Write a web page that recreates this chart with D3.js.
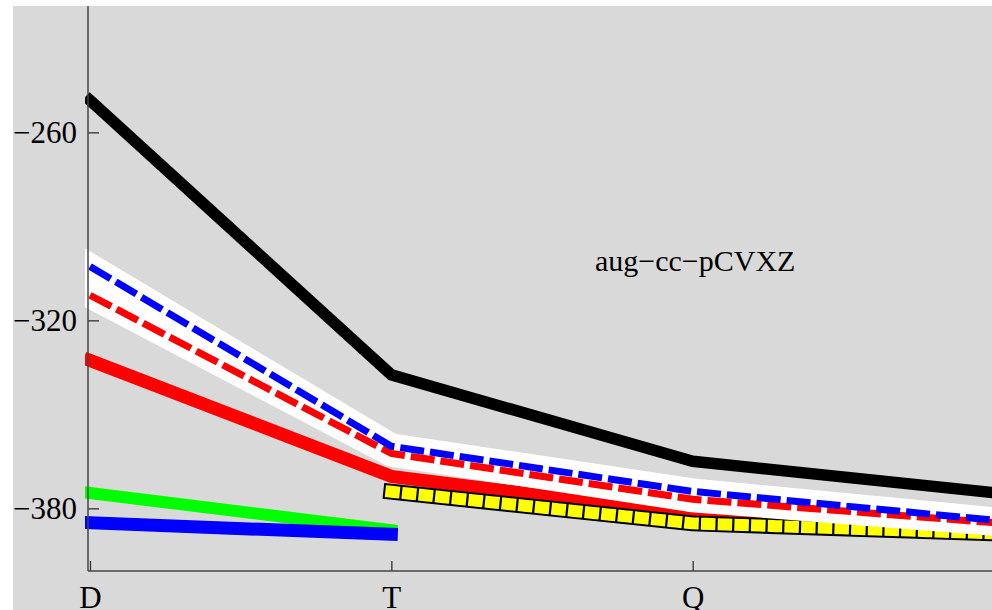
<!DOCTYPE html>
<html>
<head>
<meta charset="utf-8">
<style>
  body { margin: 0; background: #fff; }
  svg { display: block; }
  .tick text { font-family: "Liberation Serif", "DejaVu Serif", serif; font-size: 31px; fill: #000; }
  .tick line { stroke: #333; stroke-width: 1.3px; }
  .label { font-family: "Liberation Serif", "DejaVu Serif", serif; font-size: 30px; fill: #000; }
</style>
</head>
<body>
<script src="https://cdn.jsdelivr.net/npm/d3@7"></script>
<script>
const width = 992, height = 610;

// basis set cardinal numbers, D T Q 5
const basis = [2, 3, 4, 5];
const basisLabels = ["D", "T", "Q", "5"];
const yTicks = [-380, -320, -260];

// energies
const blackSeries     = [-249.8, -337.4, -365.0, -375.0];
const blueDashSeries  = [-302.8, -360.2, -374.6, -383.8];
const redDashSeries   = [-312.0, -362.5, -377.1, -384.6];
const redSolidSeries  = [-332.8, -369.8, -382.0, -387.0];
const yellowBasis     = [3, 4, 5];
const yellowSeries    = [-374.7, -384.8, -388.0];
const greenBasis      = [2, 3];
const greenSeries     = [-375.1, -387.0];
const blueSolidBasis  = [2, 3];
const blueSolidSeries = [-384.6, -388.3];

const x = d3.scaleLinear().domain([2, 5]).range([90, 994]);
const y = d3.scaleLinear().domain([-400, -220]).range([571, 7]);

const svg = d3.select("body").append("svg")
    .attr("width", width)
    .attr("height", height);

svg.append("rect")
    .attr("x", 13).attr("y", 6)
    .attr("width", width - 13).attr("height", height - 6)
    .attr("fill", "#d9d9d9");

svg.append("defs").append("clipPath").attr("id", "plotClip")
  .append("rect")
    .attr("x", 85).attr("y", 6)
    .attr("width", width - 85).attr("height", 566);

const line = d3.line().x(d => x(d[0])).y(d => y(d[1]));
const pts = (xs, ys) => xs.map((v, i) => [v, ys[i]]);

const plot = svg.append("g").attr("clip-path", "url(#plotClip)");

function draw(data, color, w, dash, cap) {
    return plot.append("path")
        .datum(data)
        .attr("d", line)
        .attr("fill", "none")
        .attr("stroke", color)
        .attr("stroke-width", w)
        .attr("stroke-linecap", cap || (dash ? "butt" : "square"))
        .attr("stroke-dasharray", dash || null);
}

draw(pts(basis, blackSeries), "#000", 11.5);
draw(pts(basis, redSolidSeries), "#ff0000", 13);

// yellow checkered: black underlay, then square-capped yellow dashes
draw(pts(yellowBasis, yellowSeries), "#000", 16);
draw(pts(yellowBasis, yellowSeries), "#ffff00", 12, "2.5,14.2", "square");

// white halos under the dashed lines
draw(pts(basis, blueDashSeries), "#fff", 26);
draw(pts(basis, redDashSeries), "#fff", 26);
draw(pts(basis, redDashSeries), "#ff0000", 7, "24,6");
draw(pts(basis, blueDashSeries), "#0000ff", 7, "24,6");

draw(pts(greenBasis, greenSeries), "#00ff00", 12);
draw(pts(blueSolidBasis, blueSolidSeries), "#0000ff", 13);

// axes
const yAxis = svg.append("g")
    .attr("transform", "translate(88,0)")
    .call(d3.axisLeft(y).tickValues(yTicks)
        .tickFormat(d => "\u2212" + Math.abs(d))
        .tickSizeInner(-11).tickSizeOuter(0).tickPadding(11));
yAxis.select(".domain").remove();
yAxis.selectAll("text").attr("dy", "0.33em");

const xAxis = svg.append("g")
    .attr("transform", `translate(0,${y(-400)})`)
    .call(d3.axisBottom(x).tickValues(basis.slice(0, 3))
        .tickFormat((d, i) => basisLabels[i])
        .tickSizeInner(-10).tickSizeOuter(0));
xAxis.select(".domain").remove();
xAxis.selectAll("text").attr("y", 37).attr("dy", 0);

svg.append("line")
    .attr("x1", 88).attr("x2", 88)
    .attr("y1", 6).attr("y2", y(-400))
    .attr("stroke", "#444").attr("stroke-width", 1.5);
svg.append("line")
    .attr("x1", 88).attr("x2", width)
    .attr("y1", y(-400)).attr("y2", y(-400))
    .attr("stroke", "#444").attr("stroke-width", 1.5);

svg.append("text")
    .attr("class", "label")
    .attr("x", 595).attr("y", 271)
    .text("aug\u2212cc\u2212pCVXZ");
</script>
</body>
</html>
